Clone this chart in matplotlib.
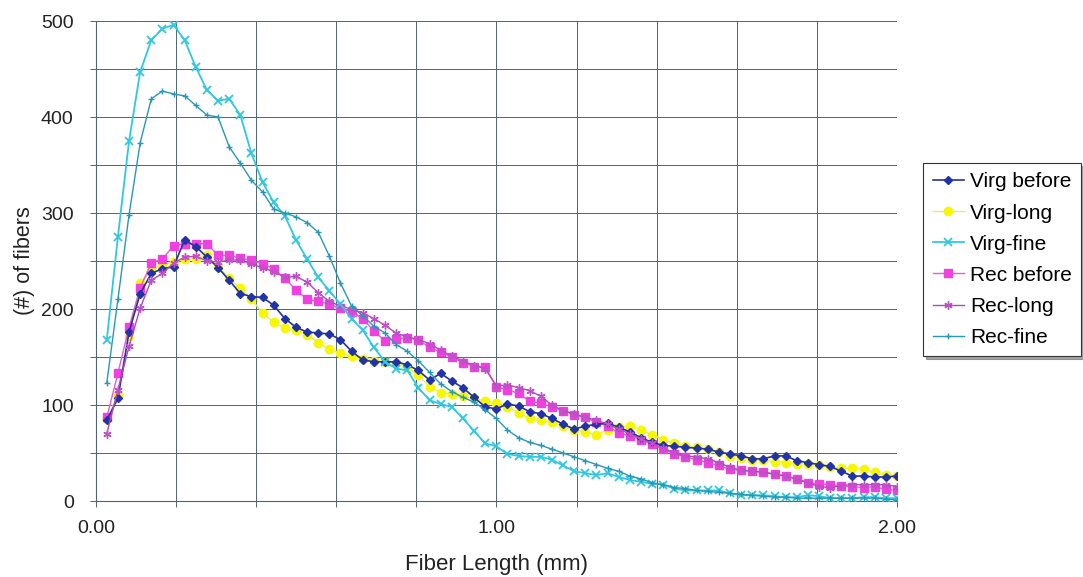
import numpy as np
import matplotlib
matplotlib.use("Agg")
import matplotlib.pyplot as plt
from matplotlib.ticker import MultipleLocator, FixedLocator

plt.rcParams['font.family'] = ['Liberation Sans', 'DejaVu Sans']

# Fiber length categories (mm), 72 bins
fiber_length = np.linspace(0.027, 2.0, 72)

virg_before = [84, 107, 176, 216, 237, 242, 244, 272, 265, 254,
               243, 230, 216, 213, 212, 204, 190, 181, 176, 175,
               174, 168, 156, 147, 145, 145, 145, 142, 136, 126,
               133, 125, 118, 108, 98, 96, 101, 99, 93, 91,
               86, 80, 75, 78, 80, 81, 77, 72, 66, 61,
               58, 57, 56, 55, 54, 51, 49, 47, 44, 44,
               47, 47, 42, 40, 38, 36, 31, 26, 26, 25,
               25, 26]

virg_long = [85, 110, 172, 227, 240, 246, 249, 252, 252, 256,
             244, 232, 222, 210, 196, 186, 180, 178, 173, 165,
             158, 154, 151, 148, 146, 145, 144, 140, 131, 119,
             113, 111, 109, 107, 104, 102, 98, 92, 86, 84,
             82, 78, 74, 72, 69, 74, 77, 78, 74, 69,
             64, 60, 57, 56, 54, 51, 47, 45, 43, 43,
             41, 40, 39, 39, 37, 35, 34, 34, 33, 30,
             27, 26]

virg_fine = [168, 275, 375, 447, 480, 492, 496, 480, 452, 428,
             417, 419, 402, 362, 332, 311, 297, 272, 252, 233,
             219, 205, 190, 178, 160, 145, 138, 136, 118, 105,
             101, 98, 86, 73, 60, 57, 49, 47, 46, 46,
             43, 37, 31, 29, 27, 29, 25, 22, 20, 18,
             17, 13, 11, 11, 11, 11, 8, 6, 6, 6,
             5, 4, 4, 6, 5, 3, 3, 3, 4, 4,
             3, 3]

rec_before = [87, 133, 181, 222, 248, 252, 266, 268, 268, 268,
              256, 256, 253, 251, 247, 242, 232, 220, 210, 208,
              205, 201, 197, 190, 177, 167, 169, 170, 168, 160,
              155, 150, 144, 140, 140, 119, 116, 112, 104, 102,
              98, 94, 90, 87, 82, 78, 71, 68, 64, 59,
              54, 49, 46, 43, 40, 37, 33, 32, 31, 30,
              28, 26, 23, 19, 18, 17, 16, 15, 14, 15,
              12, 11]

rec_long = [70, 116, 161, 201, 230, 237, 248, 254, 255, 250,
            249, 251, 251, 247, 243, 239, 233, 234, 228, 217,
            208, 203, 200, 196, 190, 183, 175, 171, 168, 164,
            157, 151, 146, 141, 138, 120, 121, 118, 115, 109,
            100, 94, 91, 87, 84, 80, 75, 70, 65, 60,
            55, 50, 47, 46, 44, 40, 35, 32, 31, 30,
            28, 26, 23, 19, 15, 14, 16, 17, 17, 17,
            17, 15]

rec_fine = [123, 210, 298, 373, 419, 427, 424, 422, 412, 402,
            400, 369, 352, 334, 322, 304, 300, 296, 290, 280,
            255, 227, 203, 193, 182, 175, 163, 156, 146, 134,
            122, 114, 108, 103, 95, 86, 74, 66, 61, 58,
            54, 50, 46, 42, 38, 34, 31, 26, 23, 19,
            17, 14, 13, 11, 10, 9, 8, 7, 6, 5,
            4, 4, 3, 3, 3, 3, 3, 3, 3, 3,
            2, 1]

series_names = ["Virg before", "Virg-long", "Virg-fine", "Rec before", "Rec-long", "Rec-fine"]

fig = plt.figure(figsize=(10.83, 5.77), dpi=100)
ax = fig.add_axes([0.0886, 0.1317, 0.7396, 0.8319])

grid_c = '#4f6670'
ax.plot(fiber_length, virg_long, color='#e6ea70', lw=1.0, marker='o', ms=6,
        mfc='#f7f700', mec='#f7f700', label=series_names[1], zorder=3)
ax.plot(fiber_length, virg_before, color='#26329a', lw=1.2, marker='D', ms=4.5,
        mfc='#2233a8', mec='#2233a8', label=series_names[0], zorder=4)
ax.plot(fiber_length, rec_before, color='#e060d8', lw=1.0, marker='s', ms=5.5,
        mfc='#f040e0', mec='#f040e0', label=series_names[3], zorder=3)
ax.plot(fiber_length, rec_long, color='#b048b8', lw=1.0, marker=(6, 2, 0), ms=6,
        mfc='#c050c8', mec='#c050c8', label=series_names[4], zorder=4)
ax.plot(fiber_length, virg_fine, color='#30c8e0', lw=1.3, marker='x', ms=6,
        mew=1.3, mec='#30c8e0', label=series_names[2], zorder=4)
ax.plot(fiber_length, rec_fine, color='#2a98b4', lw=1.0, marker='+', ms=5,
        mew=1.0, mec='#2a98b4', label=series_names[5], zorder=4)

ax.set_xlim(0, 2.0)
ax.set_ylim(0, 500)
ax.xaxis.set_major_locator(FixedLocator([0.0, 1.0, 2.0]))
ax.xaxis.set_minor_locator(MultipleLocator(0.2))
ax.yaxis.set_major_locator(MultipleLocator(100))
ax.yaxis.set_minor_locator(MultipleLocator(50))
ax.set_xticklabels(["0.00", "1.00", "2.00"])
ax.grid(True, which='both', color=grid_c, lw=0.7)
ax.set_axisbelow(True)
for s in ['top', 'right']:
    ax.spines[s].set_visible(False)
for s in ['left', 'bottom']:
    ax.spines[s].set_color(grid_c)
    ax.spines[s].set_linewidth(0.8)
ax.tick_params(axis='both', which='both', colors=grid_c, length=4, width=0.7,
               labelcolor='#222222', labelsize=14)
ax.tick_params(axis='x', which='major', pad=10)
ax.tick_params(axis='y', which='major', pad=12)

ax.set_xlabel("Fiber Length (mm)", fontsize=16, color='#222222', labelpad=12)
ax.set_ylabel("(#) of fibers", fontsize=15.5, color='#222222', labelpad=4)

handles, labels = ax.get_legend_handles_labels()
order = [labels.index(n) for n in series_names]
leg = ax.legend([handles[i] for i in order], [labels[i] for i in order],
                loc='upper left', bbox_to_anchor=(1.033, 0.704), fontsize=15,
                frameon=True, fancybox=False, shadow=True, borderpad=0.45,
                labelspacing=0.58, handlelength=1.5, handletextpad=0.3,
                borderaxespad=0)
leg.get_frame().set_edgecolor('#333333')
leg.get_frame().set_linewidth(0.8)

fig.savefig("out.png", dpi=100)
